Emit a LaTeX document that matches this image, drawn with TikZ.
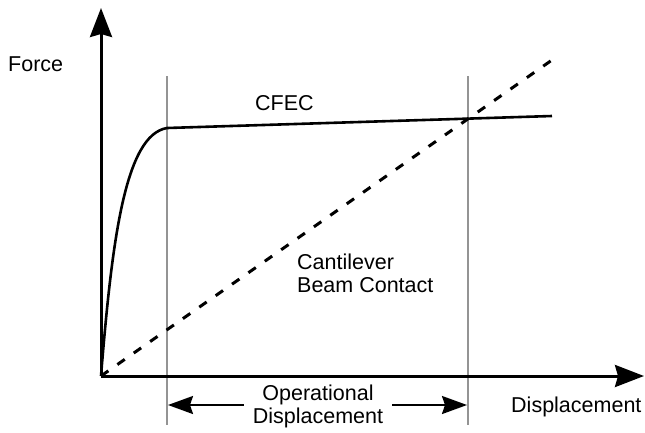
\documentclass[tikz,border=0pt]{standalone}
\usepackage{fontspec}
\setmainfont{Liberation Sans}
\usetikzlibrary{arrows.meta}
\begin{document}
\begin{tikzpicture}[x=1pt,y=-1pt,
  axis/.style={line width=3pt,-{Stealth[length=29pt,width=22pt,inset=3pt]}},
  guide/.style={line width=2pt,draw=black!42},
  lbl/.style={font=\fontsize{21.5}{23}\selectfont,inner sep=0pt,align=left},
  dimarrow/.style={line width=2pt,{Stealth[length=25pt,width=18pt,inset=3pt]}-{Stealth[length=25pt,width=18pt,inset=3pt]}},
  curve/.style={line width=2.6pt,line join=round},
  dashline/.style={line width=3pt,dash pattern=on 9pt off 11pt}]
\useasboundingbox (0,0) rectangle (645,432);
\coordinate (O) at (101,376);
\coordinate (ytip) at (101,8);
\coordinate (xtip) at (644,376);
\coordinate (k) at (167,128);
\coordinate (cend) at (552,116);
\coordinate (dend) at (552,60);
\coordinate (g1t) at (167,76);
\coordinate (g1b) at (167,425);
\coordinate (g2t) at (468,76);
\coordinate (g2b) at (468,425);
\coordinate (a1) at (168,405);
\coordinate (a2) at (467,405);
% guides
\draw[guide] (g1t) -- (g1b);
\draw[guide] (g2t) -- (g2b);
% dashed line
\draw[dashline] (O) -- (dend);
% CFEC curve
\draw[curve] (O) .. controls (112,240) and (125,135) .. (k) -- (cend);
% axes
\draw[axis] (O) -- (ytip);
\draw[axis] (O) -- (xtip);
% operational arrow
\draw[dimarrow] (a1) -- (a2);
\node[lbl,align=center,fill=white,inner xsep=9pt,inner ysep=1pt] (op) at (318,406) {Operational\\Displacement};
% labels
\node[lbl,anchor=west] (force) at (8,64) {Force};
\node[lbl,anchor=west] (cfec) at (255,103) {CFEC};
\node[lbl,anchor=north west] (cant) at (297,254) {Cantilever\\Beam Contact};
\node[lbl,anchor=west] (disp) at (511,407) {Displacement};
\end{tikzpicture}
\end{document}
